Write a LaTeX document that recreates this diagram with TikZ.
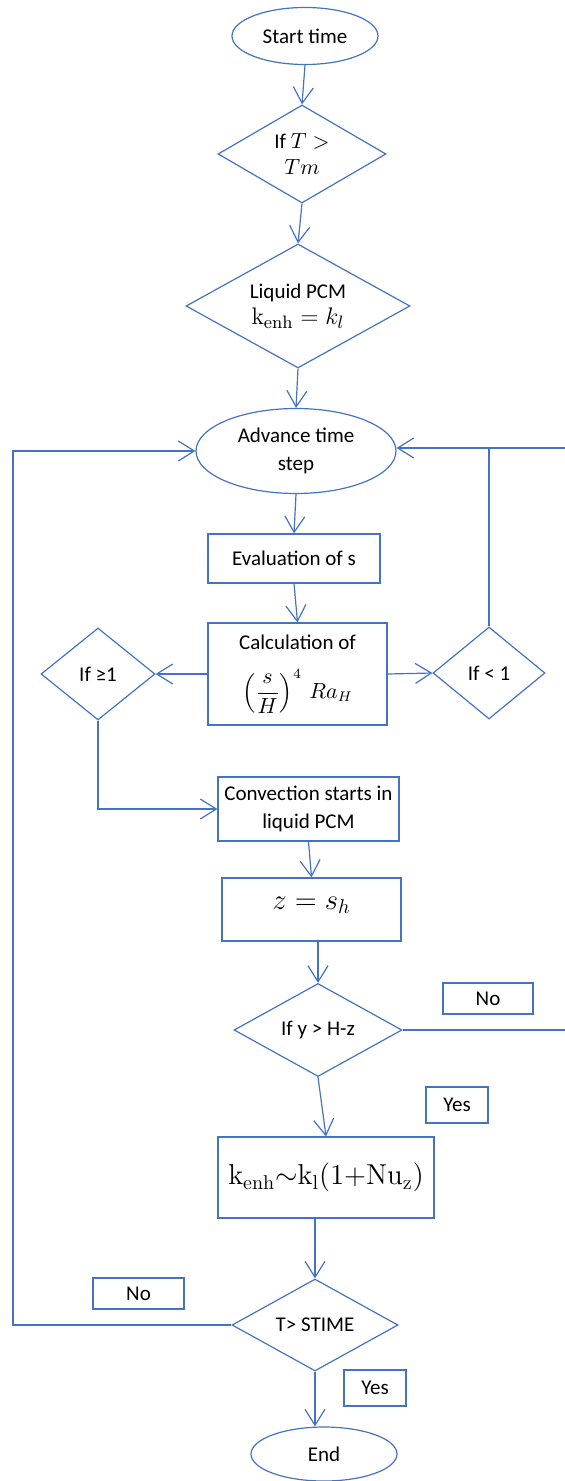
\documentclass[tikz,border=0pt]{standalone}
\usepackage{amsmath}
\usepackage[no-math]{fontspec}
\setmainfont{Carlito}
\usetikzlibrary{shapes.geometric,arrows.meta}
\definecolor{ln}{HTML}{4472C4}
\begin{document}
\begin{tikzpicture}[x=0.5pt,y=-0.5pt,
  every node/.style={font=\fontsize{10.5}{14}\selectfont, text=black},
  base/.style={draw=ln, line width=0.6pt},
  term/.style={base, ellipse, inner sep=0pt, align=center},
  dec/.style={base, diamond, inner sep=1pt, aspect=1.8, align=center},
  proc/.style={base, rectangle, inner sep=0pt, align=center},
  lbl/.style={base, rectangle, inner sep=0pt},
  conn/.style={draw=ln, line width=0.6pt},
  arr/.style={conn, -{Straight Barb[length=8pt,width=10pt]}}
]
\useasboundingbox (0,0) rectangle (565,1481);

% nodes
\node[term, minimum width=73pt, minimum height=28.5pt] (start) at (305,36) {Start time};
\node[dec, minimum width=84pt, minimum height=49pt] (d1) at (302,154) {If $T >$\\[-1pt]$Tm$};
\node[dec, minimum width=112pt, minimum height=62pt] (d2) at (298,306)
  {Liquid PCM\\[-1pt]{\fontsize{12.5}{14}\selectfont$\mathrm{k}_{\mathrm{enh}} = k_l$}};
\node[term, minimum width=100pt, minimum height=42.5pt] (adv) at (296,451) {Advance time\\step};
\node[proc, minimum width=86pt, minimum height=24.5pt] (eval) at (294,558.5) {Evaluation of s};
\node[proc, minimum width=89.5pt, minimum height=51pt] (calc) at (297.5,674)
  {\raisebox{-3pt}{Calculation of}\\[9pt]\raisebox{-2pt}{$\left(\dfrac{s}{H}\right)^{4}\,Ra_H$}};
\node[dec, minimum width=57pt, minimum height=46pt] (dge) at (98,674) {If ≥1};
\node[dec, minimum width=56pt, minimum height=46pt] (dlt) at (489,673) {If < 1};
\node[proc, minimum width=90.5pt, minimum height=32pt] (conv) at (308.5,809) {Convection starts in\\liquid PCM};
\node[proc, minimum width=89.5pt, minimum height=31.5pt] (zbox) at (311.5,909.5)
  {\raisebox{6.5pt}{\fontsize{14.5}{16}\selectfont$z = s_h$}};
\node[dec, minimum width=84pt, minimum height=46.5pt] (dy) at (318,1030) {If y > H-z};
\node[lbl, minimum width=45pt, minimum height=15.5pt] (no1) at (488,998.5) {No};
\node[lbl, minimum width=31pt, minimum height=18pt] (yes1) at (457,1105) {Yes};
\node[proc, minimum width=108pt, minimum height=40.5pt] (kbox) at (326,1177.5)
  {{\fontsize{14}{16}\selectfont$\mathrm{k_{enh}{\sim}k_l(1{+}Nu_z)}$}};
\node[dec, minimum width=83pt, minimum height=46pt] (dT) at (315,1325) {T> STIME};
\node[lbl, minimum width=45.5pt, minimum height=15.5pt] (no2) at (138.5,1293.5) {No};
\node[lbl, minimum width=31pt, minimum height=18pt] (yes2) at (375,1388) {Yes};
\node[term, minimum width=73pt, minimum height=27pt] (endn) at (324,1454) {End};

% free ends at the right edge and left corner
\coordinate (rA) at (565,448);
\coordinate (rB) at (565,1030);
\coordinate (lB) at (13,1325);

% connectors
\draw[arr] (start.south) -- (d1.north);
\draw[arr] (d1.south) -- (d2.north);
\draw[arr] (d2.south) -- (adv.north);
\draw[arr] (adv.south) -- (eval.north);
\draw[arr] (eval.south) -- (calc.north);
\draw[arr] (calc.west) -- (dge.east);
\draw[arr] (calc.east) -- (dlt.west);
\draw[conn] (dlt.north) -- (dlt.north |- rA);
\draw[arr] (rA) -- (rA -| adv.east);
\draw[arr] (dge.south) |- (conv.west);
\draw[arr] (conv.south) -- (zbox.north);
\draw[arr] (dy.north |- zbox.south) -- (dy.north);
\draw[conn] (dy.east) -- (rB);
\draw[arr] (dy.south) -- (kbox.north);
\draw[arr] (dT.north |- kbox.south) -- (dT.north);
\draw[arr] (dT.south) -- (dT.south |- endn.north);
\draw[arr] (dT.west) -- (lB) |- (adv.west);
\end{tikzpicture}
\end{document}
